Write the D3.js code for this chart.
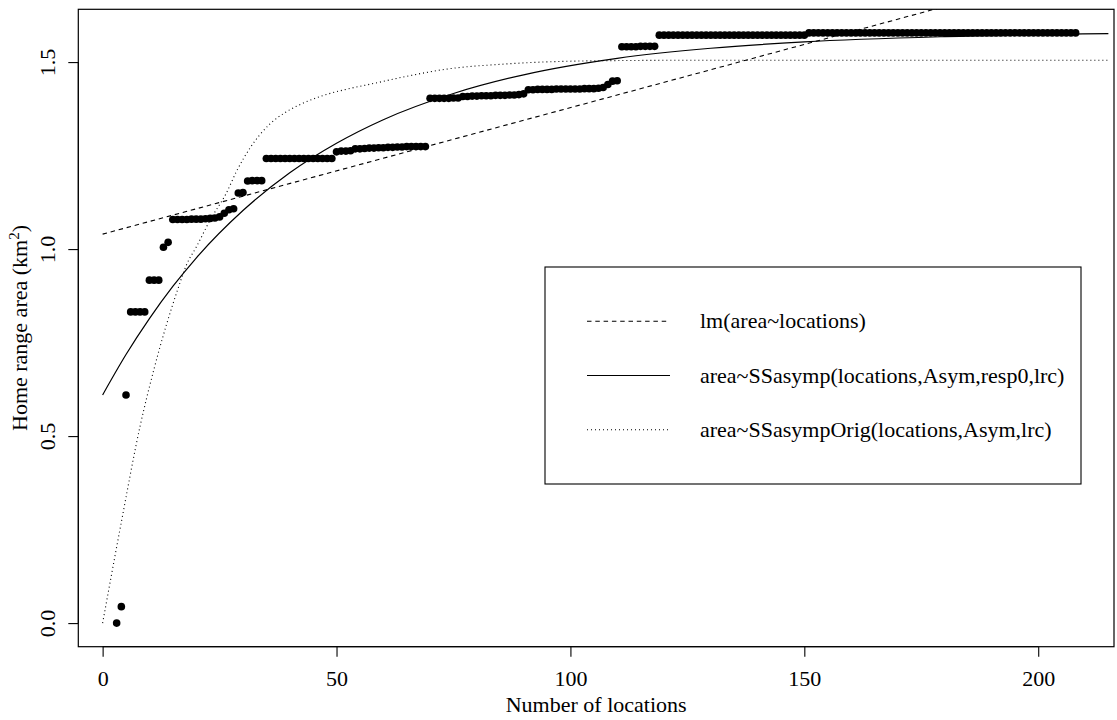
<!DOCTYPE html>
<html>
<head>
<meta charset="utf-8">
<title>Home range area vs number of locations</title>
<script src="https://cdn.jsdelivr.net/npm/d3@7"></script>
<style>
  html, body { margin: 0; padding: 0; background: #fff; }
  svg { display: block; }
  text { font-family: "Liberation Serif", "Times New Roman", serif; fill: #000; }
</style>
</head>
<body>
<div id="chart"></div>
<script>
'use strict';

// observed home range area (km2) for 3..208 locations
var locations = d3.range(3, 209);
var area = [
  0.000, 0.044, 0.610, 0.832, 0.832, 0.832, 0.832, 0.917, 0.917, 0.917, 1.005, 1.018,
  1.079, 1.079, 1.079, 1.079, 1.080, 1.080, 1.080, 1.081, 1.082, 1.083, 1.086,
  1.096, 1.105, 1.108, 1.150, 1.151, 1.182, 1.183, 1.183, 1.183,
  1.242, 1.242, 1.242, 1.242, 1.242, 1.242, 1.242, 1.242, 1.242, 1.242,
  1.242, 1.242, 1.242, 1.242, 1.242,
  1.260, 1.262, 1.262, 1.263,
  1.268, 1.268, 1.269, 1.270, 1.270, 1.271, 1.271, 1.272, 1.272, 1.273,
  1.273, 1.274, 1.274, 1.274, 1.274, 1.274,
  1.403, 1.403, 1.403, 1.403, 1.403, 1.404, 1.404,
  1.408, 1.408, 1.409, 1.409, 1.410, 1.410, 1.410, 1.411, 1.411, 1.411,
  1.412, 1.412, 1.413, 1.415,
  1.426, 1.426, 1.427, 1.427, 1.427, 1.427, 1.428, 1.428, 1.428, 1.428,
  1.428, 1.428, 1.429, 1.429, 1.429, 1.430, 1.432,
  1.440, 1.449, 1.450,
  1.541, 1.541, 1.541, 1.541, 1.542, 1.542, 1.542, 1.542,
  1.572, 1.572, 1.572, 1.572, 1.572, 1.572, 1.572, 1.572, 1.572, 1.572,
  1.572, 1.572, 1.572, 1.572, 1.572, 1.572, 1.572, 1.572, 1.572, 1.572,
  1.572, 1.572, 1.572, 1.572, 1.572, 1.572, 1.572, 1.572, 1.572, 1.572,
  1.572, 1.572,
  1.578, 1.578, 1.578, 1.578, 1.578, 1.578, 1.578, 1.578, 1.578, 1.578,
  1.578, 1.578, 1.578, 1.578, 1.578, 1.578, 1.578, 1.578, 1.578, 1.578,
  1.578, 1.578, 1.578, 1.578, 1.578, 1.578, 1.578, 1.578, 1.578, 1.578,
  1.578, 1.578, 1.578, 1.578, 1.578, 1.578, 1.578, 1.578, 1.578, 1.578,
  1.578, 1.578, 1.578, 1.578, 1.578, 1.578, 1.578, 1.578, 1.578, 1.578,
  1.578, 1.578, 1.578, 1.578, 1.578, 1.578, 1.578, 1.578
];

// fitted curves
var lmLocations = [0, 215];
var lmArea = [1.040, 1.767];

var asympLocations = [0, 5, 10, 15, 20, 30, 40, 50, 60, 75, 90, 110, 130, 150, 180, 215];
var asympArea = [0.610, 0.718, 0.814, 0.900, 0.976, 1.103, 1.204, 1.283, 1.346, 1.416,
  1.466, 1.510, 1.537, 1.554, 1.568, 1.576];

var origLocations = [0, 4, 8, 11, 13.7, 16, 18, 20, 23, 26.5, 28.7, 31.5, 35.8, 39.4, 43,
  47, 52, 58, 65, 74, 85, 96, 110, 130, 160, 215];
var origArea = [0, 0.27, 0.526, 0.68, 0.80, 0.89, 0.96, 1.005, 1.078, 1.151, 1.21, 1.27,
  1.335, 1.368, 1.391, 1.41, 1.427, 1.443, 1.462, 1.482, 1.494, 1.501, 1.504, 1.505,
  1.505, 1.505];

var xTicks = [0, 50, 100, 150, 200];
var yTicks = [0, 0.5, 1.0, 1.5];
var yTickLabels = ['0.0', '0.5', '1.0', '1.5'];

var legendLabels = [
  'lm(area~locations)',
  'area~SSasymp(locations,Asym,resp0,lrc)',
  'area~SSasympOrig(locations,Asym,lrc)'
];

var width = 1117;
var height = 720;
var margin = { top: 9.3, right: 3, bottom: 73.3, left: 78.3 };

// R style 4% padding on each side
function padded(ext) {
  var d = (ext[1] - ext[0]) * 0.04;
  return [ext[0] - d, ext[1] + d];
}

var x = d3.scaleLinear()
  .domain(padded(d3.extent(locations)))
  .range([margin.left, width - margin.right]);
var y = d3.scaleLinear()
  .domain(padded(d3.extent(area)))
  .range([height - margin.bottom, margin.top]);

var svg = d3.select('#chart')
  .append('svg')
  .attr('width', width)
  .attr('height', height)
  .attr('viewBox', [0, 0, width, height]);

svg.append('defs').append('clipPath')
  .attr('id', 'plot-clip')
  .append('rect')
  .attr('x', margin.left)
  .attr('y', margin.top)
  .attr('width', width - margin.left - margin.right)
  .attr('height', height - margin.top - margin.bottom);

var curves = svg.append('g').attr('clip-path', 'url(#plot-clip)');

function curveLine(xs, ys, curve) {
  return d3.line()
    .x(function (d, i) { return x(xs[i]); })
    .y(function (d, i) { return y(ys[i]); })
    .curve(curve)(xs);
}

var styles = [
  { dash: '4.5,3.8', width: 1.1 },
  { dash: null, width: 1.2 },
  { dash: '1,3', width: 1.1 }
];

curves.append('path')
  .attr('d', curveLine(lmLocations, lmArea, d3.curveLinear))
  .attr('fill', 'none').attr('stroke', '#000')
  .attr('stroke-width', styles[0].width)
  .attr('stroke-dasharray', styles[0].dash);

curves.append('path')
  .attr('d', curveLine(asympLocations, asympArea, d3.curveMonotoneX))
  .attr('fill', 'none').attr('stroke', '#000')
  .attr('stroke-width', styles[1].width);

curves.append('path')
  .attr('d', curveLine(origLocations, origArea, d3.curveMonotoneX))
  .attr('fill', 'none').attr('stroke', '#000')
  .attr('stroke-width', styles[2].width)
  .attr('stroke-dasharray', styles[2].dash);

svg.append('g')
  .selectAll('circle')
  .data(locations)
  .join('circle')
  .attr('cx', function (d) { return x(d); })
  .attr('cy', function (d, i) { return y(area[i]); })
  .attr('r', 3.8)
  .attr('fill', '#000');

// box
svg.append('rect')
  .attr('x', margin.left)
  .attr('y', margin.top)
  .attr('width', width - margin.left - margin.right)
  .attr('height', height - margin.top - margin.bottom)
  .attr('fill', 'none')
  .attr('stroke', '#000')
  .attr('stroke-width', 1.2);

// axes (R style: ticks outward, labels below / rotated left)
var xAxis = d3.axisBottom(x).tickValues(xTicks).tickSize(10).tickPadding(14)
  .tickFormat(d3.format('d'));
svg.append('g')
  .attr('transform', 'translate(0,' + (height - margin.bottom) + ')')
  .call(xAxis)
  .call(function (g) {
    g.select('.domain').attr('d', 'M' + x(xTicks[0]) + ',0H' + x(xTicks[xTicks.length - 1]));
    g.selectAll('.tick line').attr('stroke-width', 1.1);
    g.selectAll('.tick text')
      .attr('font-family', '"Liberation Serif", serif')
      .attr('font-size', 22)
      .attr('dy', '0.71em')
      .attr('fill', '#000');
  });

var yAxis = d3.axisLeft(y).tickValues(yTicks).tickSize(10)
  .tickFormat(function (d, i) { return yTickLabels[i]; });
svg.append('g')
  .attr('transform', 'translate(' + margin.left + ',0)')
  .call(yAxis)
  .call(function (g) {
    g.select('.domain').attr('d', 'M0,' + y(yTicks[0]) + 'V' + y(yTicks[yTicks.length - 1]));
    g.selectAll('.tick line').attr('stroke-width', 1.1);
    g.selectAll('.tick text')
      .attr('font-family', '"Liberation Serif", serif')
      .attr('font-size', 22)
      .attr('x', null).attr('dy', null)
      .attr('text-anchor', 'middle')
      .attr('transform', 'translate(-23,0) rotate(-90)')
      .attr('fill', '#000');
  });

// axis titles
var plotMidX = (margin.left + width - margin.right) / 2;
var plotMidY = (margin.top + height - margin.bottom) / 2;

svg.append('text')
  .attr('x', plotMidX)
  .attr('y', 712)
  .attr('text-anchor', 'middle')
  .attr('font-size', 22)
  .text('Number of locations');

var yTitle = svg.append('text')
  .attr('transform', 'translate(27,' + plotMidY + ') rotate(-90)')
  .attr('text-anchor', 'middle')
  .attr('font-size', 22);
yTitle.append('tspan').text('Home range area (km');
yTitle.append('tspan').attr('font-size', 15).attr('dy', -8).text('2');
yTitle.append('tspan').attr('dy', 8).text(')');

// legend
var legendBox = { x0: 545, x1: 1081, y0: 267, y1: 484 };
var legend = svg.append('g');
legend.append('rect')
  .attr('x', legendBox.x0)
  .attr('y', legendBox.y0)
  .attr('width', legendBox.x1 - legendBox.x0)
  .attr('height', legendBox.y1 - legendBox.y0)
  .attr('fill', '#fff')
  .attr('stroke', '#000')
  .attr('stroke-width', 1.1);

var rowY = d3.scalePoint()
  .domain(d3.range(legendLabels.length))
  .range([legendBox.y0, legendBox.y1])
  .padding(1);

var rows = legend.selectAll('g.row')
  .data(legendLabels)
  .join('g')
  .attr('class', 'row')
  .attr('transform', function (d, i) { return 'translate(0,' + rowY(i) + ')'; });

rows.append('line')
  .attr('x1', 587).attr('x2', 670)
  .attr('stroke', '#000')
  .attr('stroke-width', function (d, i) { return styles[i].width; })
  .attr('stroke-dasharray', function (d, i) { return styles[i].dash; });

rows.append('text')
  .attr('x', 700)
  .attr('dy', '0.32em')
  .attr('font-size', 22)
  .text(function (d) { return d; });
</script>
</body>
</html>
